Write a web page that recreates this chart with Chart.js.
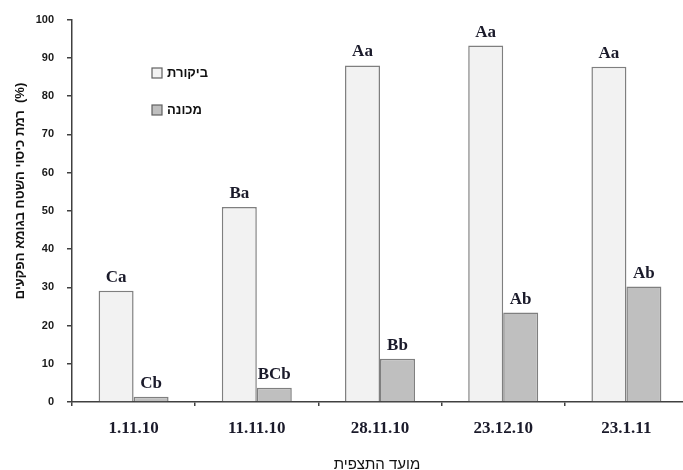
<!DOCTYPE html>
<html>
<head>
<meta charset="utf-8">
<script src="https://cdn.jsdelivr.net/npm/chart.js@4.4.1/dist/chart.umd.min.js"></script>
<style>
    html, body { margin: 0; padding: 0; background: #fff; overflow: hidden; }
    #wrap { width: 700px; height: 470px; position: relative; }
</style>
</head>
<body>
<div id="wrap"><canvas id="coverChart"></canvas></div>
<script>
// observation dates and cover levels (%)
const dates = ['1.11.10', '11.11.10', '28.11.10', '23.12.10', '23.1.11'];
const controlValues = [29.1, 51, 88, 93.2, 87.7];
const machineValues = [1.4, 3.7, 11.3, 23.4, 30.2];
const controlLetters = ['Ca', 'Ba', 'Aa', 'Aa', 'Aa'];
const machineLetters = ['Cb', 'BCb', 'Bb', 'Ab', 'Ab'];
const yTicks = [0, 10, 20, 30, 40, 50, 60, 70, 80, 90, 100];

const seriesNames = ['ביקורת', 'מכונה'];
const yTitle = 'רמת כיסוי השטח בגומא הפקעים  (%)';
const xTitle = 'מועד התצפית';

const AXIS = '#404040';
const BAR_BORDER = '#7f7f7f';
const LIGHT = '#f2f2f2';
const DARK = '#bfbfbf';

// letters above bars + legend + axis titles
const extrasPlugin = {
    id: 'extras',
    afterDatasetsDraw(chart) {
        const ctx = chart.ctx;
        const area = chart.chartArea;
        ctx.save();

        // significance letters
        const letters = [controlLetters, machineLetters];
        ctx.font = "bold 17px 'Liberation Serif', serif";
        ctx.fillStyle = '#1a1a2a';
        ctx.textAlign = 'center';
        ctx.textBaseline = 'alphabetic';
        chart.data.datasets.forEach((ds, i) => {
            chart.getDatasetMeta(i).data.forEach((bar, j) => {
                ctx.fillText(letters[i][j], bar.x, bar.y - 9);
            });
        });

        // legend
        const fills = [LIGHT, DARK];
        ctx.font = "bold 13px 'Liberation Sans', sans-serif";
        ctx.textAlign = 'left';
        ctx.textBaseline = 'alphabetic';
        seriesNames.forEach((name, i) => {
            const y = 68 + i * 37;
            ctx.fillStyle = fills[i];
            ctx.fillRect(152, y, 10, 10);
            ctx.strokeStyle = '#606060';
            ctx.lineWidth = 1.2;
            ctx.strokeRect(152, y, 10, 10);
            ctx.fillStyle = '#111';
            ctx.fillText(name, 167, y + 9);
        });

        // y title
        ctx.save();
        ctx.translate(20, 191);
        ctx.rotate(-Math.PI / 2);
        ctx.textAlign = 'center';
        ctx.textBaseline = 'middle';
        ctx.font = "bold 13px 'Liberation Sans', sans-serif";
        ctx.fillStyle = '#111';
        ctx.fillText(yTitle, 0, 0);
        ctx.restore();

        // x title
        ctx.textAlign = 'center';
        ctx.textBaseline = 'middle';
        ctx.font = "15px 'Liberation Sans', sans-serif";
        ctx.fillStyle = '#111';
        ctx.fillText(xTitle, (area.left + area.right) / 2 - 3, 465);

        ctx.restore();
    }
};

new Chart(document.getElementById('coverChart'), {
    type: 'bar',
    data: {
        labels: dates,
        datasets: [
            {
                label: seriesNames[0],
                data: controlValues,
                backgroundColor: LIGHT,
                borderColor: BAR_BORDER,
                borderWidth: 1.5,
                categoryPercentage: 0.568,
                barPercentage: 1,
            },
            {
                label: seriesNames[1],
                data: machineValues,
                backgroundColor: DARK,
                borderColor: BAR_BORDER,
                borderWidth: 1.5,
                categoryPercentage: 0.568,
                barPercentage: 1,
            }
        ]
    },
    options: {
        responsive: true, maintainAspectRatio: false, animation: false,
        layout: { padding: { top: 19, right: 12, left: 0, bottom: 0 } },
        plugins: {
            legend: { display: false },
            tooltip: { enabled: false }
        },
        scales: {
            x: {
                offset: true,
                grid: { offset: true, drawOnChartArea: false, tickLength: 4, color: AXIS, lineWidth: 1.5 },
                border: { display: true, color: AXIS, width: 1.5 },
                ticks: {
                    color: '#1a1a2a', padding: 12,
                    font: { family: "'Liberation Serif', serif", size: 17, weight: 'bold' }
                },
                afterFit(scale) { scale.height = 68; }
            },
            y: {
                min: 0, max: 100,
                afterBuildTicks(scale) { scale.ticks = yTicks.map(v => ({ value: v })); },
                grid: { drawOnChartArea: false, tickLength: 5, color: AXIS, lineWidth: 1.5 },
                border: { display: true, color: AXIS, width: 1.5 },
                ticks: {
                    color: '#1a1a1a', padding: 13,
                    font: { family: "'Liberation Sans', sans-serif", size: 11, weight: 'bold' }
                },
                afterFit(scale) { scale.width = 72; }
            }
        }
    },
    plugins: [extrasPlugin]
});
</script>
</body>
</html>
